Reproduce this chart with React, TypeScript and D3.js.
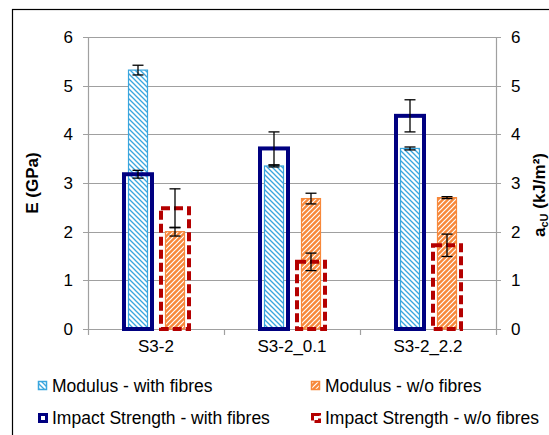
import { useEffect, useRef } from 'react';
import * as d3 from 'd3';

const categories = ['S3-2', 'S3-2_0.1', 'S3-2_2.2'];
const yTicks = [0, 1, 2, 3, 4, 5, 6];

// Modulus E (GPa), left axis
const modWith = [5.32, 3.35, 3.71];
const modWithErr = [0.1, 0.02, 0.03];
const modWo = [2.0, 2.68, 2.7];
const modWoErr = [0.09, 0.11, 0.02];

// Impact strength (kJ/m²), right axis
const impWith = [3.18, 3.71, 4.38];
const impWithErr = [0.08, 0.34, 0.33];
const impWo = [2.48, 1.38, 1.72];
const impWoErr = [0.4, 0.18, 0.23];

const legendLabels = [
  'Modulus - with fibres',
  'Modulus - w/o fibres',
  'Impact Strength - with fibres',
  'Impact Strength - w/o fibres',
];

const BLUE = '#3aa6de';
const ORANGE = '#f7883a';
const NAVY = '#000080';
const RED = '#b40000';
const GRID = '#a0a0a0';
const FONT = 'Liberation Sans, Arial, sans-serif';

const App = () => {
  const svgRef = useRef(null);

  useEffect(() => {
    const svg = d3.select(svgRef.current);
    svg.selectAll('*').remove();

    const width = 549;
    const height = 435;
    const left = 88;
    const right = 496;
    const top = 37;
    const bottom = 329;

    svg.attr('width', width).attr('height', height);

    // Patterns
    const defs = svg.append('defs');
    const pBlue = defs.append('pattern')
      .attr('id', 'hatchBlue')
      .attr('patternUnits', 'userSpaceOnUse')
      .attr('width', 5)
      .attr('height', 5);
    pBlue.append('rect').attr('width', 5).attr('height', 5).attr('fill', '#fff');
    pBlue.append('path')
      .attr('d', 'M0,0 L5,5 M-1,4 L1,6 M4,-1 L6,1')
      .attr('stroke', BLUE)
      .attr('stroke-width', 1.3);

    const pOrange = defs.append('pattern')
      .attr('id', 'hatchOrange')
      .attr('patternUnits', 'userSpaceOnUse')
      .attr('width', 5)
      .attr('height', 5);
    pOrange.append('rect').attr('width', 5).attr('height', 5).attr('fill', ORANGE);
    pOrange.append('path')
      .attr('d', 'M0,5 L5,0 M-1,1 L1,-1 M4,6 L6,4')
      .attr('stroke', '#fff')
      .attr('stroke-width', 1.2);

    // chart border
    svg.append('rect')
      .attr('x', 12.5)
      .attr('y', 9.5)
      .attr('width', 600)
      .attr('height', 500)
      .attr('fill', 'none')
      .attr('stroke', '#000')
      .attr('stroke-width', 1.2);

    const x = d3.scaleBand().domain(categories).range([left, right]).padding(0);
    const sub = d3.scaleBand().domain(['with', 'wo']).range([31.5, 105.5]);
    const yL = d3.scaleLinear().domain([0, 6]).range([bottom, top]);
    const yR = d3.scaleLinear().domain([0, 6]).range([bottom, top]);

    // gridlines + ticks
    svg.append('g').selectAll('line')
      .data(yTicks)
      .enter().append('line')
      .attr('x1', left - 5)
      .attr('x2', right + 5)
      .attr('y1', d => Math.round(yL(d)) + 0.5)
      .attr('y2', d => Math.round(yL(d)) + 0.5)
      .attr('stroke', GRID)
      .attr('stroke-width', 1.2);

    [left, right].forEach(xx => {
      svg.append('line')
        .attr('x1', xx + 0.5).attr('x2', xx + 0.5)
        .attr('y1', top).attr('y2', bottom + 0.5)
        .attr('stroke', GRID)
        .attr('stroke-width', 1.2);
    });

    // category ticks
    const boundaries = categories.map(c => x(c)).concat([right]);
    svg.append('g').selectAll('line')
      .data(boundaries)
      .enter().append('line')
      .attr('x1', d => d + 0.5)
      .attr('x2', d => d + 0.5)
      .attr('y1', bottom)
      .attr('y2', bottom + 6)
      .attr('stroke', GRID)
      .attr('stroke-width', 1.2);

    // tick labels
    svg.append('g').selectAll('text')
      .data(yTicks)
      .enter().append('text')
      .attr('x', left - 15)
      .attr('y', d => yL(d))
      .attr('dy', '0.35em')
      .attr('text-anchor', 'end')
      .style('font-family', FONT)
      .style('font-size', '17px')
      .text(d => d);

    svg.append('g').selectAll('text')
      .data(yTicks)
      .enter().append('text')
      .attr('x', right + 15)
      .attr('y', d => yR(d))
      .attr('dy', '0.35em')
      .attr('text-anchor', 'start')
      .style('font-family', FONT)
      .style('font-size', '17px')
      .text(d => d);

    svg.append('g').selectAll('text')
      .data(categories)
      .enter().append('text')
      .attr('x', d => x(d) + x.bandwidth() / 2)
      .attr('y', bottom + 23)
      .attr('text-anchor', 'middle')
      .style('font-family', FONT)
      .style('font-size', '17px')
      .text(d => d);

    // axis titles
    svg.append('text')
      .attr('transform', `translate(38,183) rotate(-90)`)
      .attr('text-anchor', 'middle')
      .style('font-family', FONT)
      .style('font-size', '17px')
      .style('font-weight', 'bold')
      .text('E (GPa)');

    const rt = svg.append('text')
      .attr('transform', `translate(545,195) rotate(-90)`)
      .attr('text-anchor', 'middle')
      .style('font-family', FONT)
      .style('font-size', '17px')
      .style('font-weight', 'bold');
    rt.append('tspan').text('a');
    rt.append('tspan').attr('dy', 3).style('font-size', '11px').text('cU');
    rt.append('tspan').attr('dy', -3).text(' (kJ/m²)');

    const cx = (i, s) => x(categories[i]) + sub(s) + sub.bandwidth() / 2;

    // modulus bars (left axis)
    const modW = 19;
    const modSeries = [
      { key: 'with', vals: modWith, fill: 'url(#hatchBlue)', stroke: BLUE },
      { key: 'wo', vals: modWo, fill: 'url(#hatchOrange)', stroke: ORANGE },
    ];
    modSeries.forEach(s => {
      svg.append('g').selectAll('rect')
        .data(s.vals)
        .enter().append('rect')
        .attr('x', (d, i) => cx(i, s.key) - modW / 2)
        .attr('y', d => yL(d))
        .attr('width', modW)
        .attr('height', d => yL(0) - yL(d))
        .attr('fill', s.fill)
        .attr('stroke', s.stroke)
        .attr('stroke-width', 1.2);
    });

    // impact bars (right axis), outline only
    const impW = 28;
    const impSeries = [
      { key: 'with', vals: impWith, stroke: NAVY, dash: null },
      { key: 'wo', vals: impWo, stroke: RED, dash: '9,4' },
    ];
    impSeries.forEach(s => {
      svg.append('g').selectAll('rect')
        .data(s.vals)
        .enter().append('rect')
        .attr('x', (d, i) => cx(i, s.key) - impW / 2)
        .attr('y', d => yR(d))
        .attr('width', impW)
        .attr('height', d => yR(0) - yR(d))
        .attr('fill', 'none')
        .attr('stroke', s.stroke)
        .attr('stroke-width', 4)
        .attr('stroke-dasharray', s.dash);
    });

    // error bars
    const errSets = [
      { key: 'with', vals: modWith, err: modWithErr, y: yL },
      { key: 'wo', vals: modWo, err: modWoErr, y: yL },
      { key: 'with', vals: impWith, err: impWithErr, y: yR },
      { key: 'wo', vals: impWo, err: impWoErr, y: yR },
    ];
    errSets.forEach(s => {
      const g = svg.append('g').attr('stroke', '#000').attr('stroke-width', 1.3);
      s.vals.forEach((v, i) => {
        const xc = cx(i, s.key);
        const y1 = s.y(v + s.err[i]);
        const y2 = s.y(v - s.err[i]);
        g.append('line').attr('x1', xc).attr('x2', xc).attr('y1', y1).attr('y2', y2);
        g.append('line').attr('x1', xc - 5.5).attr('x2', xc + 5.5).attr('y1', y1).attr('y2', y1);
        g.append('line').attr('x1', xc - 5.5).attr('x2', xc + 5.5).attr('y1', y2).attr('y2', y2);
      });
    });

    // legend
    const legendPos = [
      { x: 38, y: 386 },
      { x: 311, y: 386 },
      { x: 38, y: 418 },
      { x: 311, y: 418 },
    ];
    legendLabels.forEach((label, i) => {
      const p = legendPos[i];
      if (i === 0) {
        svg.append('rect').attr('x', p.x + 0.5).attr('y', p.y - 4.5).attr('width', 8).attr('height', 8)
          .attr('fill', 'url(#hatchBlue)').attr('stroke', BLUE).attr('stroke-width', 1.5);
      } else if (i === 1) {
        svg.append('rect').attr('x', p.x + 0.5).attr('y', p.y - 4.5).attr('width', 8).attr('height', 8)
          .attr('fill', 'url(#hatchOrange)').attr('stroke', ORANGE).attr('stroke-width', 1.5);
      } else if (i === 2) {
        svg.append('rect').attr('x', p.x + 1.5).attr('y', p.y - 3.5).attr('width', 7).attr('height', 7)
          .attr('fill', 'none').attr('stroke', NAVY).attr('stroke-width', 3);
      } else {
        svg.append('rect').attr('x', p.x + 1.5).attr('y', p.y - 3.5).attr('width', 7).attr('height', 7)
          .attr('fill', 'none').attr('stroke', RED).attr('stroke-width', 3)
          .attr('stroke-dasharray', '8,3');
      }
      svg.append('text')
        .attr('x', p.x + 14)
        .attr('y', p.y)
        .attr('dy', '0.35em')
        .style('font-family', FONT)
        .style('font-size', '17.5px')
        .text(label);
    });
  }, []);

  return (
    <div style={{ position: 'absolute', left: 0, top: 0 }}>
      <svg ref={svgRef} style={{ display: 'block' }}></svg>
    </div>
  );
};

export default App;
